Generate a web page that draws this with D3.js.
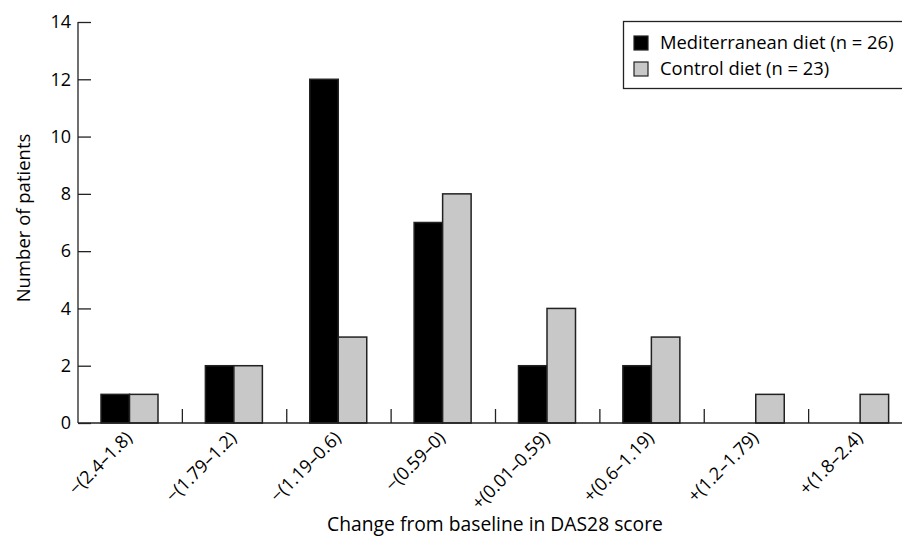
<!DOCTYPE html>
<html>
<head>
<meta charset="utf-8">
<script src="https://cdn.jsdelivr.net/npm/d3@7"></script>
<style>
  body { margin: 0; background: #fff; }
  text { font-family: "Open Sans", "DejaVu Sans", sans-serif; fill: #000; }
</style>
</head>
<body>
<div id="display"></div>
<script>
const categories = ["\u2212(2.4\u20131.8)", "\u2212(1.79\u20131.2)", "\u2212(1.19\u20130.6)", "\u2212(0.59\u20130)",
  "+(0.01\u20130.59)", "+(0.6\u20131.19)", "+(1.2\u20131.79)", "+(1.8\u20132.4)"]
const mediterranean = [1, 2, 12, 7, 2, 2, 0, 0]
const control = [1, 2, 3, 8, 4, 3, 1, 1]
const seriesNames = ["Mediterranean diet (n = 26)", "Control diet (n = 23)"]
const yTicks = [0, 2, 4, 6, 8, 10, 12, 14]

function chart(parentNode)
{
  let width = 902
  let height = 543
  let margin = {top: 22, right: -11, bottom: 120, left: 78}
  let colors = ["#000000", "#c8c8c8"]

  let x = d3.scaleBand(categories, [margin.left, width - margin.right]).padding(0)
  let y = d3.scaleLinear([0, 14], [height - margin.bottom, margin.top])
  let xs = d3.scaleBand([0, 1], [23, 23 + 57])

  const svg = d3.create("svg")
      .attr("width", width)
      .attr("height", height)

  // y axis, ticks pointing inward
  svg.append("g")
      .attr("transform", `translate(${margin.left},0)`)
      .call(d3.axisRight(y).tickValues(yTicks).tickSize(13).tickFormat(() => ""))
      .call(g => g.select(".domain").attr("d", `M0,${y(0)}V${y(14)}`).attr("stroke", "#222").attr("stroke-width", 1.3))
      .call(g => g.selectAll(".tick line").attr("stroke", "#222").attr("stroke-width", 1.3))

  svg.append("g")
    .selectAll("text")
    .data(yTicks)
    .join("text")
      .attr("x", margin.left - 7)
      .attr("y", d => y(d))
      .attr("dy", "0.35em")
      .attr("text-anchor", "end")
      .attr("font-size", 18)
      .text(d => d)

  // bars
  const groups = svg.append("g")
    .selectAll("g")
    .data(categories)
    .join("g")
      .attr("transform", d => `translate(${x(d)},0)`)

  groups.selectAll("rect")
    .data((d, i) => [mediterranean[i], control[i]].map((v, k) => ({k, v})))
    .join("rect")
      .filter(d => d.v > 0)
      .attr("x", d => xs(d.k))
      .attr("width", xs.bandwidth())
      .attr("y", d => y(d.v))
      .attr("height", d => y(0) - y(d.v))
      .attr("fill", d => colors[d.k])
      .attr("stroke", "#222")
      .attr("stroke-width", 1.5)

  // x axis: ticks between the groups, pointing up
  const bounds = categories.slice(1).map(c => x(c))
  svg.append("line")
      .attr("x1", margin.left).attr("x2", width)
      .attr("y1", y(0)).attr("y2", y(0))
      .attr("stroke", "#222").attr("stroke-width", 1.3)
  svg.append("g")
    .selectAll("line")
    .data(bounds)
    .join("line")
      .attr("x1", d => d).attr("x2", d => d)
      .attr("y1", y(0)).attr("y2", y(0) - 14)
      .attr("stroke", "#222").attr("stroke-width", 1.3)

  svg.append("g")
    .selectAll("text")
    .data(categories)
    .join("text")
      .attr("transform", d => `translate(${x(d) + x.bandwidth() / 2 + 3},${y(0) + 16}) rotate(-45)`)
      .attr("text-anchor", "end")
      .attr("font-size", 18)
      .text(d => d)

  // axis titles
  svg.append("text")
      .attr("transform", `translate(24,218) rotate(-90)`)
      .attr("text-anchor", "middle")
      .attr("dy", "0.35em")
      .attr("font-size", 18.5)
      .text("Number of patients")

  svg.append("text")
      .attr("x", 495)
      .attr("y", 531)
      .attr("text-anchor", "middle")
      .attr("font-size", 19.3)
      .text("Change from baseline in DAS28 score")

  // legend (box runs off the right edge like the original)
  const legend = svg.append("g")
  legend.append("rect")
      .attr("x", 623.5).attr("y", 21.5)
      .attr("width", 300).attr("height", 67)
      .attr("fill", "#fff").attr("stroke", "#222").attr("stroke-width", 1.3)
  const items = legend.selectAll("g.item")
    .data(seriesNames)
    .join("g")
      .attr("class", "item")
      .attr("transform", (d, i) => `translate(634,${43 + i * 26})`)
  items.append("rect")
      .attr("x", 0).attr("y", -7)
      .attr("width", 14).attr("height", 14)
      .attr("fill", (d, i) => colors[i])
      .attr("stroke", "#222").attr("stroke-width", 1.2)
  items.append("text")
      .attr("x", 26)
      .attr("dy", "0.35em")
      .attr("font-size", 18.4)
      .text(d => d)

  parentNode.appendChild(svg.node())
}

document.addEventListener("DOMContentLoaded", () => {
  chart(document.getElementById("display"))
})
</script>
</body>
</html>
